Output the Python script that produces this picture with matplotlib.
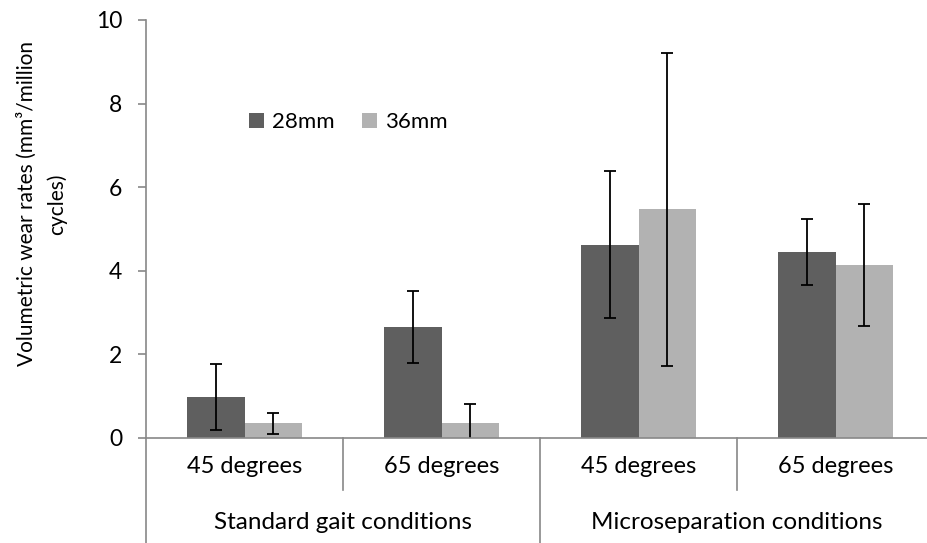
import numpy as np
import matplotlib
matplotlib.use('Agg')
import matplotlib.pyplot as plt

plt.rcParams['font.family'] = ['Lato', 'DejaVu Sans']

angles = ['45 degrees', '65 degrees', '45 degrees', '65 degrees']
groups = ['Standard gait conditions', 'Microseparation conditions']
series = ['28mm', '36mm']

wear_28 = [0.98, 2.65, 4.62, 4.45]
low_28 = [0.20, 1.80, 2.87, 3.65]
high_28 = [1.78, 3.52, 6.38, 5.25]

wear_36 = [0.35, 0.37, 5.48, 4.13]
low_36 = [0.10, -0.08, 1.73, 2.67]
high_36 = [0.60, 0.82, 9.22, 5.60]

dark = '#5f5f5f'
light = '#b2b2b2'
axcol = '#888888'

fig = plt.figure(figsize=(9.27, 5.43), dpi=100)
ax = fig.add_axes([146/927, 1-438/543, 788/927, 418/543])

x = np.arange(len(angles))
w = 0.29

err28 = [np.array(wear_28) - np.array(low_28), np.array(high_28) - np.array(wear_28)]
err36 = [np.array(wear_36) - np.array(low_36), np.array(high_36) - np.array(wear_36)]

ax.bar(x - w/2, wear_28, w, color=dark, label=series[0],
       yerr=err28, error_kw=dict(ecolor='black', elinewidth=1.3, capsize=4.5, capthick=1.3))
ax.bar(x + w/2, wear_36, w, color=light, label=series[1],
       yerr=err36, error_kw=dict(ecolor='black', elinewidth=1.3, capsize=4.5, capthick=1.3))

ax.set_xlim(-0.5, 3.5)
ax.set_ylim(0, 10)
ax.set_yticks([0, 2, 4, 6, 8, 10])
ax.tick_params(axis='y', labelsize=16.5, length=6, color=axcol, width=1.2, pad=11)
ax.set_xticks([])

for s in ['top', 'right']:
    ax.spines[s].set_visible(False)
ax.spines['bottom'].set_color(axcol)
ax.spines['bottom'].set_linewidth(1.2)
ax.spines['left'].set_color(axcol)
ax.spines['left'].set_linewidth(1.2)
ax.spines['left'].set_bounds(-2.5, 10)
ax.spines['left'].set_clip_on(False)

# category divider lines below the axis
for xi in [0.5, 2.5]:
    ax.plot([xi, xi], [0, -1.25], color=axcol, lw=1.2, clip_on=False)
ax.plot([1.5, 1.5], [0, -2.5], color=axcol, lw=1.2, clip_on=False)

for xi, lab in zip(x, angles):
    ax.text(xi, -0.68, lab, ha='center', va='center', fontsize=17)
for gi, lab in enumerate(groups):
    ax.text(0.5 + 2*gi, -2.03, lab, ha='center', va='center', fontsize=17.5)

ax.set_ylabel('Volumetric wear rates (mm\u00b3/million\ncycles)', fontsize=15,
              linespacing=1.6)
ax.yaxis.set_label_coords(-0.1, 0.56)

ax.legend(loc='center left', bbox_to_anchor=(0.105, 0.755), ncol=2, frameon=False,
          fontsize=16, handlelength=0.68, handleheight=0.68, columnspacing=1.25, handletextpad=0.35)

fig.savefig('out.png', dpi=100)
